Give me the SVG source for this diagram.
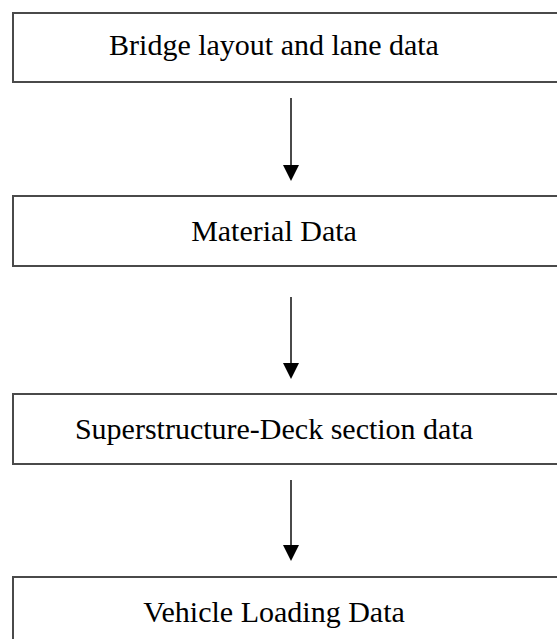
<svg xmlns="http://www.w3.org/2000/svg" width="557" height="639" viewBox="0 0 557 639">
<style>
.box{fill:#fff;stroke:#4a4a4a;stroke-width:2}
.lbl{font-family:"Liberation Serif","Times New Roman",serif;font-size:30px;fill:#000;text-anchor:middle}
.conn{stroke:#4a4a4a;stroke-width:2;fill:none}
</style>
<defs>
<marker id="ah" markerWidth="16" markerHeight="16" refX="0" refY="8" orient="auto" markerUnits="userSpaceOnUse" viewBox="0 0 16 16">
<path d="M0,0 L16,8 L0,16 Z" fill="#000"/>
</marker>
</defs>
<rect width="557" height="639" fill="#fff"/>
<g id="n1"><rect class="box" x="13" y="13" width="560" height="69"/><text class="lbl" x="274" y="55">Bridge layout and lane data</text></g>
<g id="n2"><rect class="box" x="13" y="196" width="560" height="70"/><text class="lbl" x="274" y="241">Material Data</text></g>
<g id="n3"><rect class="box" x="13" y="394" width="560" height="70"/><text class="lbl" x="274" y="439">Superstructure-Deck section data</text></g>
<g id="n4"><rect class="box" x="13" y="577" width="560" height="70"/><text class="lbl" x="274" y="622">Vehicle Loading Data</text></g>
<g id="connectors">
<line class="conn" x1="291" y1="98" x2="291" y2="165" marker-end="url(#ah)"/>
<line class="conn" x1="291" y1="297" x2="291" y2="363" marker-end="url(#ah)"/>
<line class="conn" x1="291" y1="480" x2="291" y2="545" marker-end="url(#ah)"/>
</g>
</svg>
